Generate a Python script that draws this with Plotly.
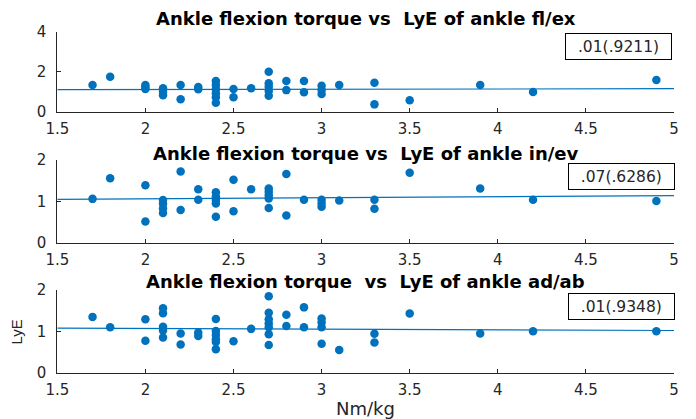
import plotly.graph_objects as go

# ---- data ----
x1 = [1.7, 1.8, 2.0, 2.0, 2.0, 2.1, 2.1, 2.1, 2.2, 2.2, 2.3, 2.3,
      2.4, 2.4, 2.4, 2.4, 2.4, 2.4, 2.5, 2.5, 2.6,
      2.7, 2.7, 2.7, 2.7, 2.7, 2.8, 2.8, 2.9, 2.9, 3.0, 3.0, 3.0,
      3.1, 3.3, 3.3, 3.5, 3.9, 4.2, 4.9]
y1 = [1.34, 1.76, 1.35, 1.25, 1.15, 1.18, 1.02, 0.84, 1.34, 0.63, 1.25, 1.13,
      1.54, 1.34, 1.13, 0.93, 0.73, 0.46, 1.14, 0.73, 1.18,
      2.0, 1.43, 1.26, 1.05, 0.81, 1.54, 1.09, 1.54, 0.98, 1.31, 1.09, 0.9,
      1.34, 1.46, 0.38, 0.58, 1.34, 1.0, 1.59]

x2 = [1.7, 1.8, 2.0, 2.0, 2.1, 2.1, 2.1, 2.1, 2.2, 2.2, 2.3, 2.3,
      2.4, 2.4, 2.4, 2.4, 2.4, 2.5, 2.5, 2.6,
      2.7, 2.7, 2.7, 2.7, 2.7, 2.8, 2.8, 2.9, 3.0, 3.0, 3.0,
      3.1, 3.3, 3.3, 3.5, 3.9, 4.2, 4.9]
y2 = [1.06, 1.56, 1.39, 0.51, 1.03, 0.94, 0.83, 0.72, 1.72, 0.79, 1.29, 1.04,
      1.22, 1.11, 1.03, 0.95, 0.63, 1.52, 0.76, 1.29,
      1.31, 1.23, 1.15, 1.07, 0.84, 1.66, 0.66, 1.04, 1.04, 0.95, 0.87,
      1.02, 1.04, 0.82, 1.69, 1.31, 1.04, 1.01]

x3 = [1.7, 1.8, 2.0, 2.0, 2.1, 2.1, 2.1, 2.1, 2.1, 2.2, 2.2, 2.3, 2.3,
      2.4, 2.4, 2.4, 2.4, 2.4, 2.4, 2.5, 2.6,
      2.7, 2.7, 2.7, 2.7, 2.7, 2.7, 2.7, 2.8, 2.8, 2.9, 2.9,
      3.0, 3.0, 3.0, 3.0, 3.1, 3.3, 3.3, 3.5, 3.9, 4.2, 4.9]
y3 = [1.35, 1.10, 1.29, 0.77, 1.56, 1.44, 1.11, 1.02, 0.85, 0.95, 0.68, 0.97, 0.89,
      1.30, 1.01, 0.91, 0.81, 0.74, 0.57, 0.76, 1.06,
      1.85, 1.45, 1.29, 1.19, 1.10, 0.93, 0.67, 1.40, 1.13, 1.58, 1.10,
      1.31, 1.22, 1.10, 0.70, 0.55, 0.94, 0.73, 1.43, 0.95, 1.00, 1.00]

fit_x = [1.5, 5.0]
fit1_y = [1.11, 1.16]
fit2_y = [1.05, 1.14]
fit3_y = [1.08, 1.02]

titles = ["Ankle flexion torque vs  LyE of ankle fl/ex",
          "Ankle flexion torque vs  LyE of ankle in/ev",
          "Ankle flexion torque  vs  LyE of ankle ad/ab"]
stats = [".01(.9211)", ".07(.6286)", ".01(.9348)"]
yticks = [[0, 2, 4], [0, 1, 2], [0, 1, 2]]
yranges = [[0, 4], [0, 2], [0, 2]]
xticks = [1.5, 2, 2.5, 3, 3.5, 4, 4.5, 5]
xtick_labels = ["1.5", "2", "2.5", "3", "3.5", "4", "4.5", "5"]

# ---- figure ----
W, H = 696, 419
BLUE = "#0072BD"
AX = "#262626"
WIDE = "DejaVu Sans, Verdana, sans-serif"
NARROW = "Liberation Sans, Arial, Helvetica, sans-serif"

xs = [x1, x2, x3]
ys = [y1, y2, y3]
fits = [fit1_y, fit2_y, fit3_y]

# pixel geometry of the axes boxes (top, bottom)
x_left, x_right = 57.3, 674.0
boxes = [(31.7, 112.0), (160.0, 242.7), (290.0, 372.7)]
title_y = [18.5, 153.5, 281.5]
stat_box = [(565.0, 672.0, 32.7, 60.0), (567.7, 674.3, 162.7, 190.0), (567.7, 674.3, 292.7, 320.0)]

fig = go.Figure()
annotations = []
for i in range(3):
    xa = "x" if i == 0 else f"x{i+1}"
    ya = "y" if i == 0 else f"y{i+1}"
    fig.add_trace(go.Scatter(x=xs[i], y=ys[i], mode="markers", xaxis=xa, yaxis=ya,
                             marker=dict(color=BLUE, size=8.5, line=dict(width=0)),
                             showlegend=False, hoverinfo="x+y"))
    fig.add_trace(go.Scatter(x=fit_x, y=fits[i], mode="lines", xaxis=xa, yaxis=ya,
                             line=dict(color=BLUE, width=1.2), showlegend=False))
    top, bot = boxes[i]
    xkey = "xaxis" if i == 0 else f"xaxis{i+1}"
    ykey = "yaxis" if i == 0 else f"yaxis{i+1}"
    fig.update_layout(**{
        xkey: dict(domain=[x_left / W, x_right / W], range=[1.5, 5], anchor=ya,
                   tickvals=xticks, ticktext=xtick_labels, ticks="inside", ticklen=4,
                   tickcolor=AX, showline=True, linecolor=AX, linewidth=1,
                   showgrid=False, zeroline=False, mirror=False, automargin=False,
                   ticklabelstandoff=3,
                   tickfont=dict(family=WIDE, size=15, color=AX), fixedrange=True),
        ykey: dict(domain=[1 - bot / H, 1 - top / H], range=yranges[i], anchor=xa,
                   tickvals=yticks[i], ticks="inside", ticklen=4,
                   tickcolor=AX, showline=True, linecolor=AX, linewidth=1,
                   showgrid=False, zeroline=False, mirror=False, automargin=False,
                   ticklabelstandoff=7,
                   tickfont=dict(family=WIDE, size=15, color=AX), fixedrange=True),
    })
    annotations.append(dict(text=f"<b>{titles[i].replace('  ', '&nbsp; ')}</b>", xref="paper", yref="paper",
                            x=(x_left + x_right) / 2 / W, y=1 - title_y[i] / H,
                            xanchor="center", yanchor="middle", showarrow=False,
                            font=dict(family=WIDE, size=18, color="black")))
    l, r, t, b = stat_box[i]
    annotations.append(dict(text=stats[i], xref="paper", yref="paper",
                            x=(l + r) / 2 / W, y=1 - (t + b) / 2 / H,
                            xanchor="center", yanchor="middle", showarrow=False,
                            width=r - l - 4, height=b - t - 4, borderpad=1,
                            bordercolor="black", borderwidth=1, bgcolor="white",
                            font=dict(family=WIDE, size=15.5, color=AX)))

annotations.append(dict(text="LyE", xref="paper", yref="paper", x=16 / W, y=1 - 332.5 / H,
                        textangle=-90, xanchor="center", yanchor="middle", showarrow=False,
                        font=dict(family=NARROW, size=15, color=AX)))
annotations.append(dict(text="Nm/kg", xref="paper", yref="paper", x=365.5 / W, y=1 - 408 / H,
                        xanchor="center", yanchor="middle", showarrow=False,
                        font=dict(family=WIDE, size=18, color=AX)))

fig.update_layout(width=W, height=H, margin=dict(l=0, r=0, t=0, b=0, autoexpand=False),
                  paper_bgcolor="white", plot_bgcolor="white",
                  annotations=annotations, showlegend=False)

fig.write_html("out.html", config={"displayModeBar": False},
               post_script="document.body.style.margin='0';document.body.style.overflow='hidden';")
